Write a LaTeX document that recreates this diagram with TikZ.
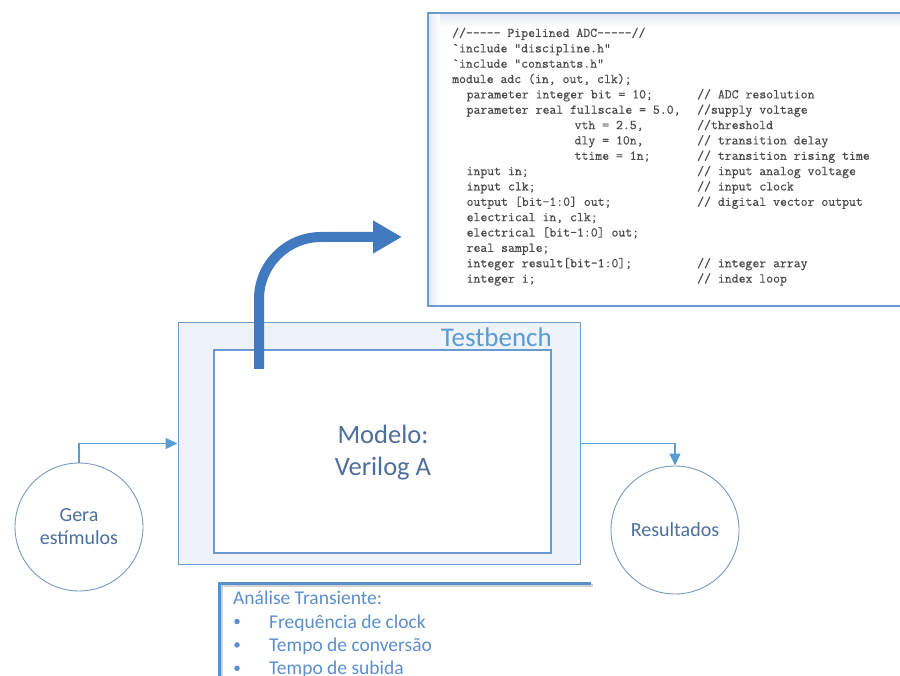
\documentclass[tikz,border=0pt]{standalone}
\usepackage{fontspec}
\setmainfont{Carlito}
\newfontfamily\listingfont[FakeBold=0.5]{Latin Modern Mono}
\usetikzlibrary{arrows.meta}

\definecolor{boxblue}{HTML}{6A9AD0}
\definecolor{lineblue}{HTML}{5B9BD5}
\definecolor{arrowblue}{HTML}{417ABE}
\definecolor{circleblue}{HTML}{7A98C0}
\definecolor{slate}{HTML}{4E6F9C}
\definecolor{tbtext}{HTML}{5B9BD5}
\definecolor{tbfill}{HTML}{EEF3FA}
\definecolor{codegray}{HTML}{4A4A4A}
\definecolor{listblue}{HTML}{5B8FCC}
\definecolor{shadegray}{HTML}{E2EAF3}

% one line of the Verilog-A listing: line number, x position, text
\newcommand\vaLine[3]{\node[codetxt] (cl#1) at (#2,{37+15.35*(#1-1)}) {#3};}
% the comment column of a listing line: line number, text
\newcommand\vaNote[2]{\node[codetxt] (cn#1) at (697,{37+15.35*(#1-1)}) {#2};}

\begin{document}
\begin{tikzpicture}[x=1pt,y=-1pt,
  box/.style={rectangle, draw=boxblue, line width=1pt, inner sep=0pt},
  conn/.style={draw=lineblue, line width=1.4pt, -{Triangle[length=12pt,width=11pt]}},
  bubble/.style={circle, draw=circleblue, line width=0.9pt, fill=white,
    minimum size=128pt, inner sep=0pt, align=center, text=slate,
    font=\fontsize{20}{23}\selectfont},
  codetxt/.style={anchor=base west, inner sep=0pt, text=codegray,
    font=\fontsize{13.4}{15}\listingfont},
  listtxt/.style={anchor=base west, inner sep=0pt, text=listblue,
    font=\fontsize{19.5}{23}\selectfont},
  dot/.style={circle, fill=listblue, inner sep=0pt, minimum size=5.5pt}]
\useasboundingbox (0,0) rectangle (900,676);

% ---------- testbench frame and model block ----------
\node[box, fill=tbfill, minimum width=402pt, minimum height=241pt] (tb) at (379,443.5) {};
\node[box, fill=white, line width=1.3pt, minimum width=337pt, minimum height=203pt] (model) at (382.5,451.5) {};
\node[anchor=base east, inner sep=0pt, text=tbtext, font=\fontsize{27}{30}\selectfont] (tblabel) at (552,347) {Testbench};
\node[anchor=base, inner sep=0pt, text=slate, font=\fontsize{26.5}{31}\selectfont] (m1) at (383,443) {Modelo:};
\node[anchor=base, inner sep=0pt, text=slate, font=\fontsize{26.5}{31}\selectfont] (m2) at (383,475) {Verilog A};

% ---------- stimulus source and results ----------
\node[bubble] (gera) at (79,527) {Gera\\estímulos};
\node[bubble] (res) at (675,530) {Resultados};
\draw[conn] (gera.north) |- (tb.west);
\draw[conn] (tb.east) -| (res.north);

% ---------- code listing panel ----------
\fill[white] (428,13) rectangle (910,306);
\shade[top color=shadegray, bottom color=white] (428.7,13.7) rectangle (910,27);
\shade[left color=shadegray, right color=white] (428.7,13.7) rectangle (440,305.3);
\node[box, line width=1.3pt, minimum width=482pt, minimum height=293pt] (code) at (669,159.5) {};

\vaLine{1}{452}{//----- Pipelined ADC-----//}
\vaLine{2}{452}{`include "discipline.h"}
\vaLine{3}{452}{`include "constants.h"}
\vaLine{4}{452}{module adc (in, out, clk);}
\vaLine{5}{466.4}{parameter integer bit = 10;}
\vaLine{6}{466.4}{parameter real fullscale = 5.0,}
\vaLine{7}{574.4}{vth = 2.5,}
\vaLine{8}{574.4}{dly = 10n,}
\vaLine{9}{574.4}{ttime = 1n;}
\vaLine{10}{466.4}{input in;}
\vaLine{11}{466.4}{input clk;}
\vaLine{12}{466.4}{output [bit-1:0] out;}
\vaLine{13}{466.4}{electrical in, clk;}
\vaLine{14}{466.4}{electrical [bit-1:0] out;}
\vaLine{15}{466.4}{real sample;}
\vaLine{16}{466.4}{integer result[bit-1:0];}
\vaLine{17}{466.4}{integer i;}
\vaNote{5}{// ADC resolution}
\vaNote{6}{//supply voltage}
\vaNote{7}{//threshold}
\vaNote{8}{// transition delay}
\vaNote{9}{// transition rising time}
\vaNote{10}{// input analog voltage}
\vaNote{11}{// input clock}
\vaNote{12}{// digital vector output}
\vaNote{16}{// integer array}
\vaNote{17}{// index loop}

% ---------- thick arrow from the model to the listing ----------
\coordinate (a0) at (259,369);
\coordinate (a1) at (402,237);
\draw[draw=arrowblue, line width=10pt, rounded corners=62pt,
  -{Triangle[length=29pt,width=31pt]}] (a0) |- (a1);

% ---------- analysis notes ----------
\draw[black, opacity=0.18, line width=3pt] (221.5,690) -- (221.5,585.5) -- (593,585.5);
\draw[listblue, line width=3pt] (219,690) -- (219,583) -- (591,583);
\node[listtxt] (nt) at (233,604) {Análise Transiente:};
\node[dot] (b1) at (237,621.5) {};
\node[dot] (b2) at (237,644.9) {};
\node[dot] (b3) at (237,668.3) {};
\node[listtxt] (n1) at (269,628) {Frequência de clock};
\node[listtxt] (n2) at (269,651.4) {Tempo de conversão};
\node[listtxt] (n3) at (269,674) {Tempo de subida};
\end{tikzpicture}
\end{document}
